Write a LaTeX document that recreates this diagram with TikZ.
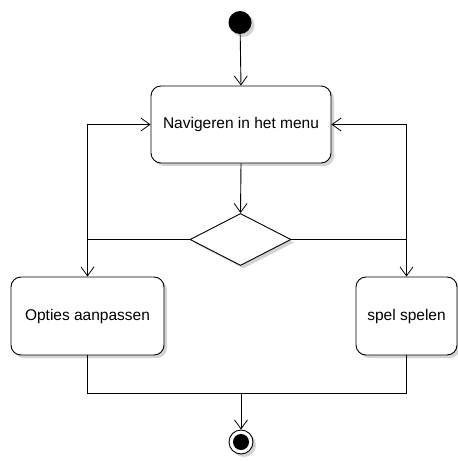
\documentclass[tikz,border=0pt]{standalone}
\usepackage{fontspec}
\setmainfont{Liberation Sans}
\usetikzlibrary{arrows.meta,shapes.geometric,shadows}

\begin{document}
\begin{tikzpicture}[x=1pt,y=-1pt,line width=0.9pt,
  font=\fontsize{15.5}{18}\selectfont,
  >={Straight Barb[length=9pt,width=13pt,line width=0.8pt]},
  schaduw/.style={drop shadow={shadow xshift=3pt,shadow yshift=-3pt,opacity=0.35,fill=gray}},
  activiteit/.style={draw,rounded corners=10pt,inner sep=0pt,fill=white,schaduw},
  keuze/.style={draw,diamond,inner sep=0pt,fill=white,schaduw}]

\useasboundingbox (0,0) rectangle (457,462);

% begin en einde
\node[circle,fill=black,inner sep=0pt,minimum size=23pt,schaduw] (start) at (240,22.5) {};
\node[circle,draw,fill=white,inner sep=0pt,minimum size=24pt,schaduw] (eind) at (241,442) {};
\fill (eind) circle (8);

% activiteiten
\node[activiteit,minimum width=180pt,minimum height=77pt] (menu) at (241,124.5) {Navigeren in het menu};
\node[keuze,minimum width=101pt,minimum height=52pt] (keus) at (240.5,239.5) {};
\node[activiteit,minimum width=153pt,minimum height=78pt] (opties) at (87.5,316) {Opties aanpassen};
\node[activiteit,minimum width=101pt,minimum height=78pt] (spel) at (406.5,316) {spel spelen};

\draw[->] (start) -- (menu.north);
\draw[->] (menu.south) -- (keus.north);

%links
\draw[->] (keus.west) -| (opties.north);
\coordinate (hoekL) at (keus.west -| opties.north);
\draw[->] (hoekL) |- (menu.west);

%rechts
\draw[->] (keus.east) -| (spel.north);
\coordinate (hoekR) at (keus.east -| spel.north);
\draw[->] (hoekR) |- (menu.east);

% samenkomen onderaan
\coordinate (samen) at (241,393);
\draw (opties.south) |- (samen);
\draw (spel.south) |- (samen);
\draw[->] (samen) -- (eind.north);

\end{tikzpicture}
\end{document}
